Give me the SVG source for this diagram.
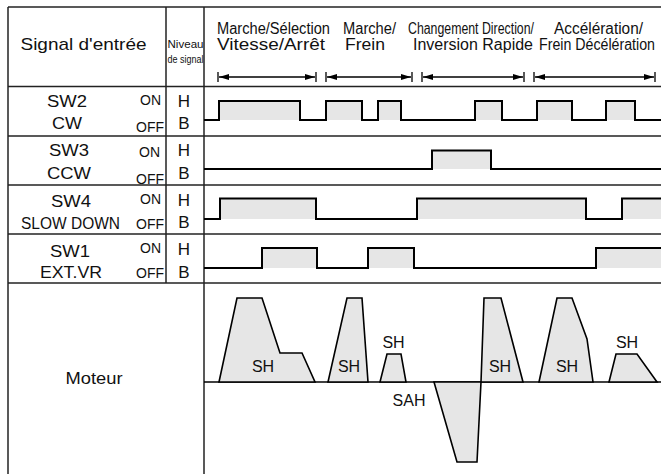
<svg xmlns="http://www.w3.org/2000/svg" width="661" height="474" viewBox="0 0 661 474">
<style>
text{font-family:"Liberation Sans",Arial,Helvetica,sans-serif;fill:#111}
.grid{stroke:#222;stroke-width:1.5;fill:none}
.sig{stroke:#000;stroke-width:2;fill:none;stroke-linejoin:miter}
.fill{fill:#e6e6e6;stroke:none}
.mot{fill:#e6e6e6;stroke:#000;stroke-width:1.6;stroke-linejoin:miter}
.arr{stroke:#000;stroke-width:1.3;fill:none}
.tick{stroke:#000;stroke-width:1.3}
.hd{font-size:16px}
.lbl{font-size:16px;text-anchor:middle}
.onoff{font-size:14px;text-anchor:end}
.hb{font-size:17px;text-anchor:middle}
.sh{font-size:16px;text-anchor:middle}
</style>
<defs>
<marker id="ah" viewBox="0 0 10 6" refX="10" refY="3" markerWidth="10" markerHeight="6" markerUnits="userSpaceOnUse" orient="auto-start-reverse">
<path d="M0,0 L10,3 L0,6 z" fill="#000"/>
</marker>
</defs>
<rect width="661" height="474" fill="#fff"/>
<g id="table">
<line class="grid" x1="8" y1="7" x2="661" y2="7"/>
<line class="grid" x1="8" y1="7" x2="8" y2="474"/>
<line class="grid" x1="166" y1="7" x2="166" y2="283"/>
<line class="grid" x1="204" y1="7" x2="204" y2="474"/>
<line class="grid" x1="8" y1="86.5" x2="661" y2="86.5"/>
<line class="grid" x1="8" y1="136" x2="661" y2="136"/>
<line class="grid" x1="8" y1="185" x2="661" y2="185"/>
<line class="grid" x1="8" y1="234" x2="661" y2="234"/>
<line class="grid" x1="8" y1="283" x2="661" y2="283"/>
</g>
<g id="header">
<text class="hd" x="20.5" y="50" textLength="126" lengthAdjust="spacingAndGlyphs" style="font-size:17px">Signal d'entrée</text>
<text x="167.5" y="48" style="font-size:11px" textLength="36" lengthAdjust="spacingAndGlyphs">Niveau</text>
<text x="167.5" y="63" style="font-size:11px" textLength="36" lengthAdjust="spacingAndGlyphs">de signal</text>
<text class="hd" x="217" y="34" textLength="113" lengthAdjust="spacingAndGlyphs">Marche/Sélection</text>
<text class="hd" x="217" y="50" textLength="108" lengthAdjust="spacingAndGlyphs">Vitesse/Arrêt</text>
<text class="hd" x="343" y="34" textLength="53" lengthAdjust="spacingAndGlyphs">Marche/</text>
<text class="hd" x="345" y="50" textLength="40" lengthAdjust="spacingAndGlyphs">Frein</text>
<text class="hd" x="408" y="34" textLength="126" lengthAdjust="spacingAndGlyphs">Changement Direction/</text>
<text class="hd" x="413" y="50" textLength="120" lengthAdjust="spacingAndGlyphs">Inversion Rapide</text>
<text class="hd" x="554" y="34" textLength="89" lengthAdjust="spacingAndGlyphs">Accélération/</text>
<text class="hd" x="539" y="50" textLength="116" lengthAdjust="spacingAndGlyphs">Frein Décélération</text>
</g>
<g id="phase-arrows">
<line class="tick" x1="218" y1="72" x2="218" y2="82"/>
<line class="tick" x1="316" y1="72" x2="316" y2="82"/>
<line class="arr" x1="219" y1="77" x2="315" y2="77" marker-start="url(#ah)" marker-end="url(#ah)"/>
<line class="tick" x1="326" y1="72" x2="326" y2="82"/>
<line class="tick" x1="412" y1="72" x2="412" y2="82"/>
<line class="arr" x1="327" y1="77" x2="411" y2="77" marker-start="url(#ah)" marker-end="url(#ah)"/>
<line class="tick" x1="422" y1="72" x2="422" y2="82"/>
<line class="tick" x1="524" y1="72" x2="524" y2="82"/>
<line class="arr" x1="423" y1="77" x2="523" y2="77" marker-start="url(#ah)" marker-end="url(#ah)"/>
<line class="tick" x1="534" y1="72" x2="534" y2="82"/>
<line class="tick" x1="655" y1="72" x2="655" y2="82"/>
<line class="arr" x1="535" y1="77" x2="654" y2="77" marker-start="url(#ah)" marker-end="url(#ah)"/>
</g>
<g id="sw2">
<text class="lbl" x="67" y="107" textLength="40" lengthAdjust="spacingAndGlyphs">SW2</text>
<text class="lbl" x="67" y="129" textLength="30" lengthAdjust="spacingAndGlyphs">CW</text>
<text class="onoff" x="161" y="105">ON</text>
<text class="onoff" x="164" y="132">OFF</text>
<text class="hb" x="184" y="107">H</text>
<text class="hb" x="184" y="128.5">B</text>
<rect class="fill" x="219" y="101" width="81" height="19"/>
<rect class="fill" x="326" y="101" width="36" height="19"/>
<rect class="fill" x="378" y="101" width="23" height="19"/>
<rect class="fill" x="475" y="101" width="27" height="19"/>
<rect class="fill" x="537" y="101" width="35" height="19"/>
<rect class="fill" x="606" y="101" width="29" height="19"/>
<polyline class="sig" points="204,120 219,120 219,101 300,101 300,120 326,120 326,101 362,101 362,120 378,120 378,101 401,101 401,120 475,120 475,101 502,101 502,120 537,120 537,101 572,101 572,120 606,120 606,101 635,101 635,120 661,120"/>
</g>
<g id="sw3">
<text class="lbl" x="69" y="156" textLength="40" lengthAdjust="spacingAndGlyphs">SW3</text>
<text class="lbl" x="69" y="178.5" textLength="44" lengthAdjust="spacingAndGlyphs">CCW</text>
<text class="onoff" x="160" y="157">ON</text>
<text class="onoff" x="164" y="184">OFF</text>
<text class="hb" x="184" y="156">H</text>
<text class="hb" x="184" y="178.5">B</text>
<rect class="fill" x="432" y="150.5" width="59" height="18.5"/>
<polyline class="sig" points="204,169 432,169 432,150.5 491,150.5 491,169 661,169"/>
</g>
<g id="sw4">
<text class="lbl" x="71" y="206.5" textLength="40" lengthAdjust="spacingAndGlyphs">SW4</text>
<text class="lbl" x="70.5" y="228.5" textLength="99" lengthAdjust="spacingAndGlyphs">SLOW DOWN</text>
<text class="onoff" x="161" y="204">ON</text>
<text class="onoff" x="164" y="229">OFF</text>
<text class="hb" x="184" y="206">H</text>
<text class="hb" x="184" y="228">B</text>
<rect class="fill" x="220" y="198.5" width="96" height="20.5"/>
<rect class="fill" x="417" y="198.5" width="169" height="20.5"/>
<rect class="fill" x="622" y="198.5" width="39" height="20.5"/>
<polyline class="sig" points="204,219 220,219 220,198.5 316,198.5 316,219 417,219 417,198.5 586,198.5 586,219 622,219 622,198.5 661,198.5"/>
</g>
<g id="sw1">
<text class="lbl" x="70" y="256.5" textLength="40" lengthAdjust="spacingAndGlyphs">SW1</text>
<text class="lbl" x="71" y="278" textLength="62" lengthAdjust="spacingAndGlyphs">EXT.VR</text>
<text class="onoff" x="161" y="253">ON</text>
<text class="onoff" x="164" y="278">OFF</text>
<text class="hb" x="184" y="255">H</text>
<text class="hb" x="184" y="278">B</text>
<rect class="fill" x="262" y="248" width="55" height="20"/>
<rect class="fill" x="368" y="248" width="46" height="20"/>
<rect class="fill" x="596" y="248" width="65" height="20"/>
<polyline class="sig" points="204,268 262,268 262,248 317,248 317,268 368,268 368,248 414,248 414,268 596,268 596,248 661,248"/>
</g>
<g id="moteur">
<text class="lbl" x="94" y="384" textLength="57" lengthAdjust="spacingAndGlyphs">Moteur</text>
<line x1="204" y1="382" x2="661" y2="382" stroke="#000" stroke-width="1.5"/>
<polygon class="mot" points="219,382 237,298 262,298 280,353 302,353 315,382"/>
<polygon class="mot" points="328,382 347,298 362,298 368,382"/>
<polygon class="mot" points="380,382 387,354 401,354 406,382"/>
<polygon class="mot" points="434,382 457,462 477,462 481,382"/>
<polygon class="mot" points="481,382 484,298 501,298 523,382"/>
<polygon class="mot" points="539,382 557,298 572,298 587,339 593,382"/>
<polygon class="mot" points="609,382 616,354 637,354 657,382"/>
<text class="sh" x="263" y="372">SH</text>
<text class="sh" x="349" y="372">SH</text>
<text class="sh" x="393.5" y="348">SH</text>
<text class="sh" x="409" y="406">SAH</text>
<text class="sh" x="500" y="372">SH</text>
<text class="sh" x="567" y="372">SH</text>
<text class="sh" x="627" y="348">SH</text>
</g>
</svg>
